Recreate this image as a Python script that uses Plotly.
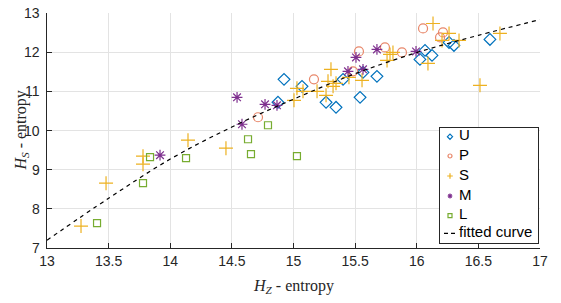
import plotly.graph_objects as go

# ---- data ----
u_x = [14.874, 14.923, 15.069, 15.264, 15.345, 15.402, 15.540, 15.564, 15.677, 16.026, 16.067, 16.124, 16.262, 16.302, 16.594]
u_y = [10.72, 11.306, 11.127, 10.72, 10.592, 11.306, 10.847, 11.484, 11.382, 11.815, 12.045, 11.917, 12.248, 12.172, 12.325]

p_x = [14.712, 15.166, 15.483, 15.531, 15.742, 15.880, 16.051, 16.189, 16.213]
p_y = [10.338, 11.306, 11.510, 12.019, 12.121, 11.994, 12.605, 12.376, 12.503]

s_x = [13.276, 13.479, 13.779, 13.779, 14.144, 14.452, 15.004, 15.028, 15.077, 15.191, 15.264, 15.280, 15.321, 15.345,
       15.304, 15.450, 15.556, 15.759, 15.783, 15.807, 16.091, 16.132, 16.205, 16.262, 16.343, 16.513, 16.675]
s_y = [7.561, 8.656, 9.344, 9.140, 9.752, 9.548, 10.771, 11.076, 11.0, 11.0, 10.898, 11.255, 11.127, 11.204,
       11.561, 11.357, 11.280, 11.790, 11.943, 11.994, 11.713, 12.732, 12.299, 12.478, 12.299, 11.153, 12.478]

m_x = [13.917, 14.542, 14.582, 14.769, 14.866, 15.442, 15.507, 15.564, 15.677, 15.994]
m_y = [9.369, 10.847, 10.159, 10.669, 10.643, 11.510, 11.866, 11.561, 12.070, 12.019]

l_x = [13.406, 13.779, 13.836, 14.128, 14.631, 14.655, 14.793, 15.028]
l_y = [7.637, 8.656, 9.318, 9.293, 9.777, 9.395, 10.134, 9.344]

fit_x = [13.0, 13.5, 14.0, 14.5, 15.0, 15.5, 16.0, 16.5, 17.0]
fit_y = [7.20, 8.27, 9.27, 10.09, 10.80, 11.45, 11.99, 12.43, 12.83]

x_ticks = [13, 13.5, 14, 14.5, 15, 15.5, 16, 16.5, 17]
x_tick_labels = ["13", "13.5", "14", "14.5", "15", "15.5", "16", "16.5", "17"]
y_ticks = [7, 8, 9, 10, 11, 12, 13]
y_tick_labels = ["7", "8", "9", "10", "11", "12", "13"]
Y_MIN, Y_MAX = 7, 13

legend_labels = ["U", "P", "S", "M", "L", "fitted curve"]
x_title = "<i>H</i><sub><i>Z</i></sub> - entropy"
y_title = "<i>H</i><sub><i>S</i></sub> - entropy"

series = [
    ("U", u_x, u_y, "diamond-open", "#0072BD", 9),
    ("P", p_x, p_y, "circle-open", "#E8876A", 9),
    ("S", s_x, s_y, "cross-thin-open", "#EDB120", 10),
    ("M", m_x, m_y, "asterisk-open", "#7E2F8E", 9),
    ("L", l_x, l_y, "square-open", "#77AC30", 7),
]

fig = go.Figure()
for name, xs, ys, sym, col, sz in series:
    fig.add_trace(go.Scatter(x=xs, y=ys, mode="markers", name=name, showlegend=False,
                             marker=dict(symbol=sym, size=sz, color=col,
                                         line=dict(color=col, width=1.2))))

fig.add_trace(go.Scatter(x=fit_x, y=fit_y, mode="lines", name="fitted curve", showlegend=False,
                         line=dict(color="black", width=1.2, dash="4px,4px", shape="spline")))

# ---- hand-built legend in its own small axes (pixel units) ----
LW, LH = 98, 115
row_y = [8.7, 28, 48, 68, 87.7, 105.3]
fig.add_trace(go.Scatter(x=[0, LW, LW, 0, 0], y=[0, 0, LH, LH, 0], xaxis="x2", yaxis="y2",
                         mode="lines", fill="toself", fillcolor="white", line=dict(width=0),
                         showlegend=False, hoverinfo="skip"))
for i, (name, xs, ys, sym, col, sz) in enumerate(series):
    fig.add_trace(go.Scatter(x=[10], y=[row_y[i]], xaxis="x2", yaxis="y2", mode="markers",
                             marker=dict(symbol=sym, size=4, color=col, line=dict(color=col, width=1.2)),
                             showlegend=False, hoverinfo="skip"))
fig.add_trace(go.Scatter(x=[4, 17], y=[row_y[5], row_y[5]], xaxis="x2", yaxis="y2", mode="lines",
                         line=dict(color="black", width=1.2, dash="4px,3px"),
                         showlegend=False, hoverinfo="skip"))
fig.add_trace(go.Scatter(x=[19] * len(legend_labels), y=row_y, xaxis="x2", yaxis="y2", mode="text",
                         text=legend_labels, textposition="middle right",
                         textfont=dict(family="Liberation Sans, Arial", size=15, color="black"),
                         showlegend=False, hoverinfo="skip"))

tick_font = dict(family="Liberation Sans, Arial", size=14, color="#262626")
axis_common = dict(showgrid=True, gridcolor="#E3E3E3", gridwidth=1, zeroline=False,
                   showline=True, linecolor="#262626", linewidth=1, ticks="inside", ticklen=5,
                   tickcolor="#262626", tickfont=tick_font,
                   mirror=False, automargin=False, ticklabeloverflow="allow")

title_font = dict(family="Liberation Serif, Times New Roman", size=16, color="#262626")

annotations = [
    dict(text=x_title, xref="paper", yref="paper", x=0.5, y=-0.163,
         xanchor="center", yanchor="middle", showarrow=False, font=title_font),
    dict(text=y_title, xref="paper", yref="paper", x=-0.0527, y=0.5, textangle=-90,
         xanchor="center", yanchor="middle", showarrow=False, font=title_font),
]
# y tick labels as text beside the axis (paper coordinates, so the end labels are never hidden)
for v, lab in zip(y_ticks, y_tick_labels):
    annotations.append(dict(text=lab, xref="paper", yref="paper", x=0,
                            y=(v - Y_MIN) / (Y_MAX - Y_MIN), xanchor="right",
                            yanchor="middle", xshift=-5, showarrow=False, font=tick_font))

# page body adds an 8px offset; figure is sized so the plot area lands where the reference has it
PW, PH = 493, 235
fig.update_layout(
    xaxis=dict(range=[13, 17], tickvals=x_ticks, ticktext=x_tick_labels, domain=[0, 1], **axis_common),
    yaxis=dict(range=[Y_MIN, Y_MAX], tickvals=y_ticks, showticklabels=False, domain=[0, 1], **axis_common),
    xaxis2=dict(domain=[(440 - 47) / PW, (538 - 47) / PW], range=[0, LW], anchor="y2",
                showgrid=False, zeroline=False, showticklabels=False, ticks="",
                showline=True, mirror=True, linecolor="#262626", linewidth=1, fixedrange=True,
                automargin=False),
    yaxis2=dict(domain=[(248 - 243) / PH, (248 - 128) / PH], range=[LH, 0], anchor="x2",
                showgrid=False, zeroline=False, showticklabels=False, ticks="",
                showline=True, mirror=True, linecolor="#262626", linewidth=1, fixedrange=True,
                automargin=False),
    annotations=annotations,
    width=545, height=287,
    margin=dict(l=39, r=13, t=5, b=47),
    paper_bgcolor="white", plot_bgcolor="white",
    showlegend=False,
)

fig.write_html("out.html")
